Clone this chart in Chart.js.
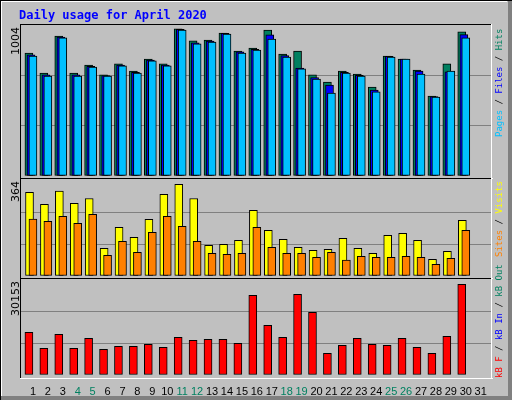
<!DOCTYPE html>
<html><head><meta charset="utf-8">
<script src="https://cdn.jsdelivr.net/npm/chart.js@4"></script>
<style>
html,body{margin:0;padding:0;background:#fff;}
#wrap{position:relative;width:512px;height:400px;}
canvas{position:absolute;}
</style></head><body>
<div id="wrap">
<canvas id="bg" width="512" height="400" style="left:0;top:0"></canvas>
<div style="position:absolute;left:21px;top:25px;width:470px;height:151px"><canvas id="c1"></canvas></div>
<div style="position:absolute;left:21px;top:180px;width:470px;height:96px"><canvas id="c2"></canvas></div>
<div style="position:absolute;left:21px;top:280px;width:470px;height:117px"><canvas id="c3"></canvas></div>
</div>
<script>
const days = Array.from({length:31},(_,i)=>i+1);
const weekend = [4,5,11,12,18,19,25,26];
const hits  = [818,685,931,685,738,672,745,698,778,745,978,898,904,951,831,851,971,811,831,672,625,698,678,592,798,778,705,532,745,958,0];
const files = [805,672,924,672,730,667,738,690,770,738,975,885,897,948,825,842,938,800,718,655,605,690,670,572,795,778,698,528,692,940,0];
const pages = [798,665,918,665,725,665,732,685,765,732,971,878,891,944,818,838,911,791,712,645,552,685,665,559,791,778,678,525,698,918,0];
const visits= [317,272,322,276,294,105,185,147,215,310,348,294,116,120,135,249,173,139,109,97,101,143,105,86,154,162,135,63,94,211,0];
const sites = [216,207,226,200,234,78,131,90,166,226,188,131,86,82,86,185,109,86,86,71,90,60,75,71,71,75,71,44,67,173,0];
const kbF   = [13550,8470,12910,8470,11650,8150,9100,9100,9740,8790,11970,11010,11330,11330,10060,25300,15780,11970,25610,19900,6890,9430,11650,9740,9430,11650,8790,6890,12280,28790,0];
const maxTop=1004, maxMid=364, maxBot=30153;

const g=document.getElementById('bg').getContext('2d');
g.fillStyle='#c0c0c0';g.fillRect(0,0,512,400);
g.fillStyle='#808080';g.fillRect(508,0,4,400);g.fillRect(0,396,512,4);
g.fillStyle='#000';g.fillRect(0,0,512,1);g.fillRect(0,0,1,400);
g.fillStyle='#fff';g.fillRect(1,1,506,1);g.fillRect(1,1,1,395);
function frame(t,b){g.fillStyle='#000';g.fillRect(20,t-1,472,1);g.fillRect(20,t-1,1,b-t+2);
 g.fillStyle='#fff';g.fillRect(20,b+1,473,1);g.fillRect(491,t-1,1,b-t+3);}
frame(25,177);frame(179,277);frame(279,377);
g.font='bold 12px "DejaVu Sans Mono"';g.fillStyle='#0000ff';g.textBaseline='alphabetic';
g.fillText('Daily usage for April 2020',19,19);
function vtext(x,y,parts,font,align){g.save();g.translate(x,y);g.rotate(-Math.PI/2);g.font=font;g.textAlign='left';g.textBaseline='middle';
 let tx=0;if(align==='right'){let w=0;parts.forEach(p=>w+=g.measureText(p[0]).width);tx=-w;}
 parts.forEach(p=>{g.fillStyle=p[1];g.fillText(p[0],tx,0);tx+=g.measureText(p[0]).width;});g.restore();}
vtext(16,27,[[String(maxTop),'#000']],'11px "DejaVu Sans"','right');
vtext(16,181,[[String(maxMid),'#000']],'11px "DejaVu Sans"','right');
vtext(16,281,[[String(maxBot),'#000']],'11px "DejaVu Sans"','right');
const mf='9px "DejaVu Sans Mono"';
vtext(500,137,[['Pages','#00c0ff'],[' / ','#000'],['Files','#0000ff'],[' / ','#000'],['Hits','#008060']],mf);
vtext(500,257,[['Sites','#ff8000'],[' / ','#000'],['Visits','#ffff00']],mf);
vtext(500,378,[['kB F','#ff0000'],[' / ','#000'],['kB In','#0000ff'],[' / ','#000'],['kB Out','#008060']],mf);

function ds(vals,off,color){return {data:vals.map((v,i)=>({x:days[i]+off,y:v})),backgroundColor:color,borderColor:'#000',borderWidth:1,barThickness:8,borderSkipped:false,grouped:false};}
function mk(id,sets,max,showX){
 const x={type:'linear',min:0.2,max:31.69,display:showX,offset:false,
     afterBuildTicks:s=>{s.ticks=days.map(v=>({value:v}));},
     grid:{display:false},border:{display:false},
     ticks:{autoSkip:false,maxRotation:0,padding:2,font:{family:'Liberation Sans',size:11},
       color:c=>weekend.includes(c.tick.value)?'#008060':'#000',callback:v=>String(v)}};
 if(showX) x.afterFit=s=>{s.height=22;};
 return new Chart(document.getElementById(id),{type:'bar',data:{datasets:sets},
 options:{responsive:true,maintainAspectRatio:false,animation:false,layout:{padding:0},
  plugins:{legend:{display:false},tooltip:{enabled:false}},
  scales:{
   x:x,
   y:{min:0,max:max,afterBuildTicks:s=>{s.ticks=[0,max/3,2*max/3,max].map(v=>({value:v}));},
     afterFit:s=>{s.width=0;},
     grid:{color:c=>(c.tick.value>0&&c.tick.value<max)?'#808080':'rgba(0,0,0,0)',drawTicks:false,lineWidth:1},
     border:{display:false},ticks:{display:false}}
  }}});
}
// first dataset is drawn on top in Chart.js
mk('c1',[ds(pages,0,'#00c0ff'),ds(files,-0.13,'#0000ff'),ds(hits,-0.27,'#008060')],maxTop,false);
mk('c2',[ds(sites,0,'#ff8000'),ds(visits,-0.23,'#ffff00')],maxMid,false);
mk('c3',[ds(kbF,-0.27,'#ff0000')],maxBot,true);
</script></body></html>
